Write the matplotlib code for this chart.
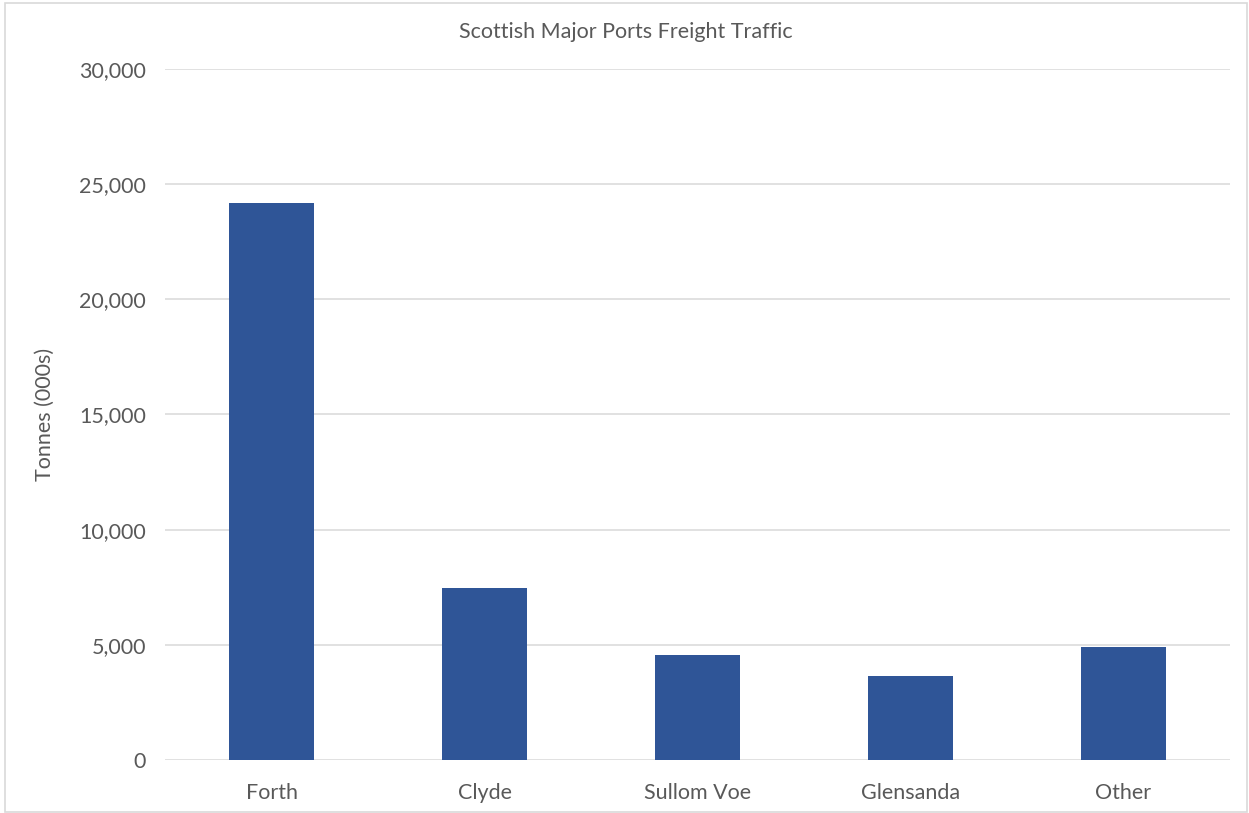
import matplotlib
matplotlib.use('Agg')
import matplotlib.pyplot as plt
import matplotlib.ticker as mticker
from matplotlib.patches import Rectangle

ports = ['Forth', 'Clyde', 'Sullom Voe', 'Glensanda', 'Other']
tonnes = [24190, 7470, 4560, 3650, 4905]

BAR = '#2F5597'
TXT = '#595959'
GRID = '#D9D9D9'

plt.rcParams['font.family'] = ['Lato', 'DejaVu Sans']

fig = plt.figure(figsize=(12.49, 8.13), dpi=100)
ax = fig.add_axes([165 / 1249, 1 - 760 / 813, (1230 - 165) / 1249, (760 - 69) / 813])

# light chart-area border
fig.patches.append(Rectangle((5 / 1249, 1 - 812 / 813), 1242 / 1249, 809 / 813,
                             transform=fig.transFigure, fill=False,
                             edgecolor='#D9D9D9', linewidth=1.2))

x = range(len(ports))
ax.bar(x, tonnes, width=0.4, color=BAR, zorder=3)

ax.set_xlim(-0.5, len(ports) - 0.5)
ax.set_ylim(0, 30000)
ax.yaxis.set_major_locator(mticker.MultipleLocator(5000))
ax.yaxis.set_major_formatter(mticker.FuncFormatter(lambda v, p: f'{v:,.0f}'))
ax.grid(axis='y', color=GRID, linewidth=1.1, zorder=0)
ax.set_xticks(list(x))
ax.set_xticklabels(ports)

for s in ax.spines.values():
    s.set_visible(False)
ax.tick_params(length=0, labelsize=15.5, colors=TXT)
ax.tick_params(axis='y', pad=13.5)
ax.tick_params(axis='x', pad=16.5)

ax.set_ylabel('Tonnes (000s)', fontsize=15.5, color=TXT, labelpad=18)
fig.text(626 / 1249, 1 - 32 / 813, 'Scottish Major Ports Freight Traffic',
         ha='center', va='center', fontsize=15.5, color=TXT)

plt.savefig('out.png', dpi=100)
